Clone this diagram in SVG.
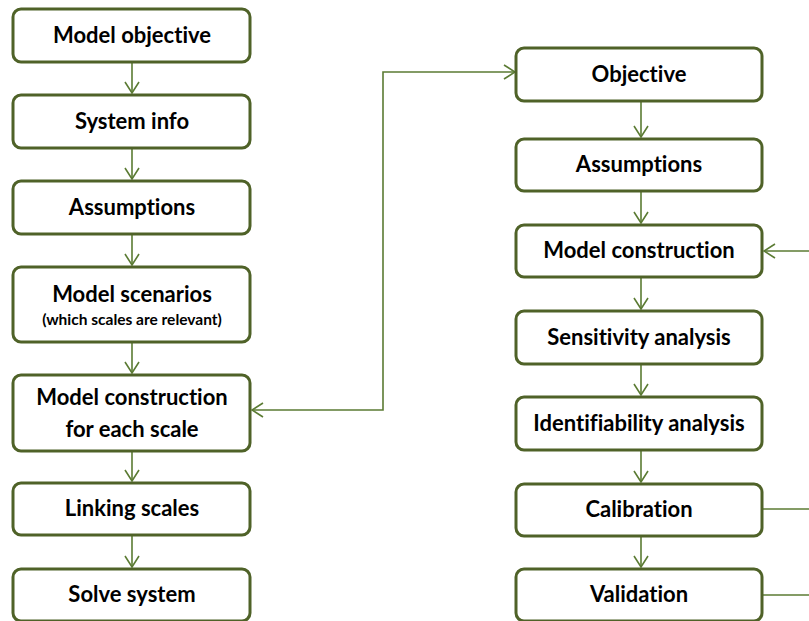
<svg xmlns="http://www.w3.org/2000/svg" width="809" height="621" viewBox="0 0 809 621">
<style>
.box{fill:#fff;stroke:#4F6228;stroke-width:3}
.t{font-family:Lato,"Open Sans",sans-serif;font-weight:bold;font-size:22px;fill:#000;text-anchor:middle;font-variant-ligatures:none}
.s{font-size:15.5px}
.c{fill:none;stroke:#5B7B33;stroke-width:1.6}
</style>
<defs>
<marker id="ah" viewBox="0 0 13 16" refX="12" refY="8" markerWidth="13" markerHeight="16" markerUnits="userSpaceOnUse" orient="auto-start-reverse">
<path d="M1,1 L12,8 L1,15" fill="none" stroke="#5B7B33" stroke-width="1.6"/>
</marker>
</defs>
<rect width="809" height="621" fill="#fff"/>
<g id="connectors">
<line class="c" x1="132" y1="62" x2="132" y2="93" marker-end="url(#ah)"/>
<line class="c" x1="132" y1="148" x2="132" y2="179" marker-end="url(#ah)"/>
<line class="c" x1="132" y1="234" x2="132" y2="265" marker-end="url(#ah)"/>
<line class="c" x1="132" y1="342" x2="132" y2="373" marker-end="url(#ah)"/>
<line class="c" x1="132" y1="451" x2="132" y2="481" marker-end="url(#ah)"/>
<line class="c" x1="132" y1="535" x2="132" y2="567" marker-end="url(#ah)"/>
<polyline class="c" points="252,410 383,410 383,72 515,72" marker-start="url(#ah)" marker-end="url(#ah)"/>
<line class="c" x1="641" y1="101" x2="641" y2="137" marker-end="url(#ah)"/>
<line class="c" x1="641" y1="191" x2="641" y2="223" marker-end="url(#ah)"/>
<line class="c" x1="641" y1="277" x2="641" y2="309" marker-end="url(#ah)"/>
<line class="c" x1="641" y1="364" x2="641" y2="395" marker-end="url(#ah)"/>
<line class="c" x1="641" y1="450" x2="641" y2="482" marker-end="url(#ah)"/>
<line class="c" x1="641" y1="536" x2="641" y2="567" marker-end="url(#ah)"/>
<line class="c" x1="809" y1="251" x2="764" y2="251" marker-end="url(#ah)"/>
<line class="c" x1="763" y1="509" x2="809" y2="509"/>
<line class="c" x1="763" y1="595" x2="809" y2="595"/>
</g>
<g id="n1"><rect class="box" x="13" y="9" width="237" height="53" rx="8"/><text class="t" x="132" y="43">Model objective</text></g>
<g id="n2"><rect class="box" x="13" y="95" width="237" height="53" rx="8"/><text class="t" x="132" y="129">System info</text></g>
<g id="n3"><rect class="box" x="13" y="181" width="237" height="53" rx="8"/><text class="t" x="132" y="215">Assumptions</text></g>
<g id="n4"><rect class="box" x="13" y="267" width="237" height="75" rx="8"/><text class="t" x="132" y="302">Model scenarios</text><text class="t s" x="132" y="325">(which scales are relevant)</text></g>
<g id="n5"><rect class="box" x="13" y="375" width="237" height="76" rx="8"/><text class="t" x="132" y="405">Model construction</text><text class="t" x="132" y="437">for each scale</text></g>
<g id="n6"><rect class="box" x="13" y="483" width="237" height="52" rx="8"/><text class="t" x="132" y="516">Linking scales</text></g>
<g id="n7"><rect class="box" x="13" y="569" width="237" height="52" rx="8"/><text class="t" x="132" y="602">Solve system</text></g>
<g id="m1"><rect class="box" x="516" y="48" width="246" height="53" rx="8"/><text class="t" x="639" y="82">Objective</text></g>
<g id="m2"><rect class="box" x="516" y="139" width="246" height="52" rx="8"/><text class="t" x="639" y="172">Assumptions</text></g>
<g id="m3"><rect class="box" x="516" y="225" width="246" height="52" rx="8"/><text class="t" x="639" y="258">Model construction</text></g>
<g id="m4"><rect class="box" x="516" y="311" width="246" height="53" rx="8"/><text class="t" x="639" y="345">Sensitivity analysis</text></g>
<g id="m5"><rect class="box" x="516" y="397" width="246" height="53" rx="8"/><text class="t" x="639" y="431">Identifiability analysis</text></g>
<g id="m6"><rect class="box" x="516" y="484" width="246" height="52" rx="8"/><text class="t" x="639" y="517">Calibration</text></g>
<g id="m7"><rect class="box" x="516" y="569" width="246" height="52" rx="8"/><text class="t" x="639" y="602">Validation</text></g>
</svg>
